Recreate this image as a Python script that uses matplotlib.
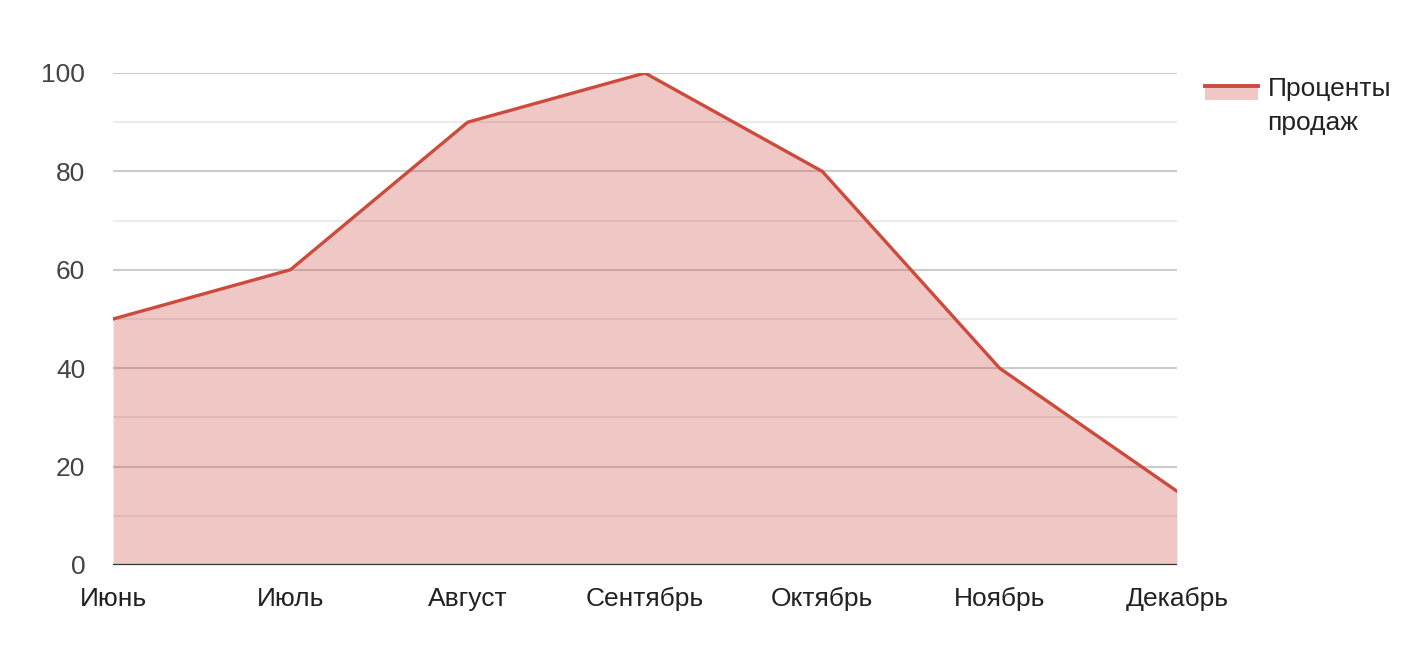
import matplotlib.pyplot as plt
from matplotlib.legend_handler import HandlerBase
from matplotlib.patches import Rectangle
from matplotlib.lines import Line2D
import numpy as np

plt.rcParams["font.family"] = ["Liberation Sans", "DejaVu Sans"]

months = ["Июнь", "Июль", "Август", "Сентябрь", "Октябрь", "Ноябрь", "Декабрь"]
sales = [50, 60, 90, 100, 80, 40, 15]
series_name = "Проценты\nпродаж"

line_color = "#cd4b3d"
fill_color = "#cd4b41"


class AreaHandler(HandlerBase):
    # line on top of a pale band, lined up with the first text line
    def create_artists(self, legend, orig_handle, xdescent, ydescent,
                       width, height, fontsize, trans):
        ly = -ydescent + height / 2 + 14.8
        rect = Rectangle((-xdescent, ly - 10), width, 10,
                         facecolor=fill_color, alpha=0.3, edgecolor="none",
                         transform=trans)
        line = Line2D([-xdescent, -xdescent + width], [ly, ly],
                      color=line_color, linewidth=2.8, transform=trans)
        return [rect, line]


fig = plt.figure(figsize=(14.24, 6.46), dpi=100)
ax = fig.add_axes([0.0794, 0.1254, 0.8265 - 0.0794, 0.7616])

x = np.arange(len(months))
ax.fill_between(x, sales, 0, color=fill_color, alpha=0.3, linewidth=0, zorder=2)
ax.plot(x, sales, color=line_color, linewidth=2.4, zorder=3)
ax.axhline(0, color="#333333", linewidth=1.6, zorder=4)

ax.set_xlim(0, len(months) - 1)
ax.set_ylim(0, 100)
ax.set_yticks(np.arange(0, 101, 20))
ax.set_yticks(np.arange(10, 100, 20), minor=True)
ax.set_xticks(x, months)
ax.grid(axis="y", which="major", color="#cccccc", linewidth=1.5, zorder=1)
ax.grid(axis="y", which="minor", color="#ebebeb", linewidth=1.5, zorder=1)
ax.set_axisbelow(True)

ax.tick_params(axis="y", which="both", length=0, pad=20, labelsize=19, labelcolor="#444444")
ax.tick_params(axis="x", length=0, pad=16, labelsize=19, labelcolor="#222222")
for s in ax.spines.values():
    s.set_visible(False)

handle = Rectangle((0, 0), 1, 1)
leg = fig.legend([handle], [series_name], handler_map={Rectangle: AreaHandler()},
                 loc="upper left", bbox_to_anchor=(0.8294, 0.918), frameon=False,
                 fontsize=19, handlelength=2.0, handletextpad=0.38,
                 labelcolor="#222222")
for t in leg.get_texts():
    t.set_linespacing(1.55)

fig.savefig("out.png", dpi=100)
